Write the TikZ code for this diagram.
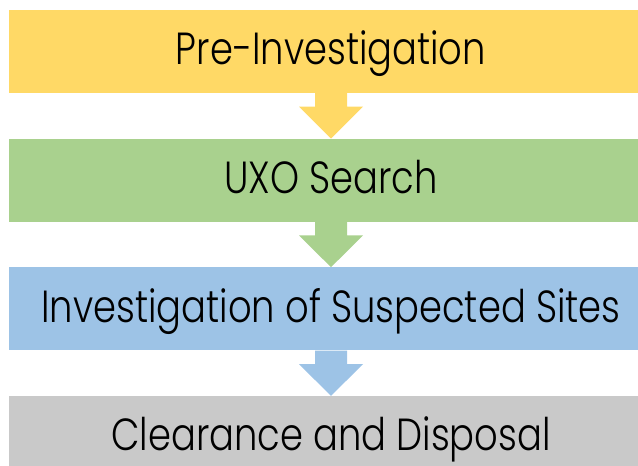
\documentclass[tikz,border=0pt]{standalone}
\usepackage{fontspec}
\IfFontExistsTF{Poppins Light}
  {\setmainfont{Poppins Light}[FakeStretch=0.82]}
  {\setmainfont{Poppins}[FakeStretch=0.82]}
\usetikzlibrary{positioning,calc}

\definecolor{preyellow}{HTML}{FFD966}
\definecolor{searchgreen}{HTML}{A9D18E}
\definecolor{sitesblue}{HTML}{9DC3E6}
\definecolor{cleargray}{HTML}{C9C9C9}

\begin{document}
\begin{tikzpicture}[
    x=1pt,y=1pt,
    node distance=45.3pt,
    stage/.style={rectangle,minimum width=644pt,minimum height=83pt,inner sep=0pt,
                  text height=31.7pt,text depth=5pt,text centered,
                  font=\fontsize{45}{50}\selectfont},
    flow/.style={draw=none}
]
\useasboundingbox (0,0) rectangle (638,-466);

% stages, top to bottom
\node[stage,fill=preyellow] (pre) at (331,-51.5) {Pre-Investigation};
\node[stage,fill=searchgreen,below=of pre] (search) {UXO Search};
\node[stage,fill=sitesblue,below=of search] (sites) {Investigation of Suspected Sites};
\node[stage,fill=cleargray,below=of sites] (clear) {Clearance and Disposal};

% block arrows between stages
\foreach \a/\b/\c in {pre/search/preyellow,search/sites/searchgreen,sites/clear/sitesblue}
  \fill[flow,\c] ($(\a.south)+(-16,0)$) -- ($(\b.north)+(-16,31.8)$) -- ++(-16,0)
      -- (\b.north) -- ++(32,31.8) -- ++(-16,0) -- ($(\a.south)+(16,0)$) -- cycle;
\end{tikzpicture}
\end{document}
